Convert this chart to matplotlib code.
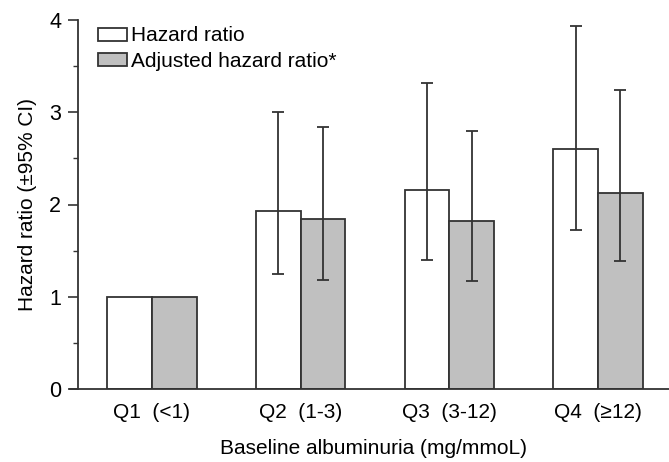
import numpy as np
import matplotlib
matplotlib.use("Agg")
import matplotlib.pyplot as plt
from matplotlib.ticker import MultipleLocator

plt.rcParams['font.family'] = ['Liberation Sans', 'DejaVu Sans']

groups = ['Q1  (<1)', 'Q2  (1-3)', 'Q3  (3-12)', 'Q4  (\u226512)']
hr = [1.0, 1.93, 2.16, 2.60]
hr_lo = [np.nan, 1.25, 1.40, 1.72]
hr_hi = [np.nan, 3.00, 3.32, 3.93]
adj = [1.0, 1.84, 1.82, 2.12]
adj_lo = [np.nan, 1.18, 1.17, 1.39]
adj_hi = [np.nan, 2.84, 2.80, 3.24]

edge = '#333333'
grey = '#c0c0c0'

fig = plt.figure(figsize=(6.69, 4.62), dpi=100)
ax = fig.add_axes([78/669, 1 - 389/462, 1 - 78/669, (389 - 20)/462])

x = np.arange(len(groups))
w = 0.3

ax.bar(x - w/2, hr, w, color='white', edgecolor=edge, linewidth=1.3,
       label='Hazard ratio', zorder=2)
ax.bar(x + w/2, adj, w, color=grey, edgecolor=edge, linewidth=1.3,
       label='Adjusted hazard ratio*', zorder=2)


def bars_err(xs, lo, hi):
    lo = np.array(lo)
    hi = np.array(hi)
    ok = ~np.isnan(lo)
    mid = (lo + hi) / 2
    ax.errorbar(xs[ok], mid[ok], yerr=(hi[ok] - lo[ok]) / 2, fmt='none',
                ecolor=edge, elinewidth=1.3, capsize=4.5, capthick=1.3, zorder=3)


bars_err(x - w/2, hr_lo, hr_hi)
bars_err(x + w/2, adj_lo, adj_hi)

ax.set_xlim(-0.497, 3.477)
ax.set_ylim(0, 4)

for s in ['top', 'right']:
    ax.spines[s].set_visible(False)
ax.spines['left'].set_color(edge)
ax.spines['bottom'].set_color(edge)
ax.spines['left'].set_linewidth(1.3)
ax.spines['bottom'].set_linewidth(1.3)
ax.spines['bottom'].set_bounds(-0.55, 3.477)

ax.set_yticks([0, 1, 2, 3, 4])
ax.yaxis.set_minor_locator(MultipleLocator(0.5))
ax.tick_params(axis='y', which='major', length=7, width=1.2, color=edge,
               labelsize=15.5, pad=5)
ax.tick_params(axis='y', which='minor', length=3.5, width=1.0, color=edge)
ax.set_xticks(x)
ax.set_xticklabels(groups)
ax.tick_params(axis='x', length=0, labelsize=15, pad=10)

ax.set_xlabel('Baseline albuminuria (mg/mmoL)', fontsize=15, labelpad=12)
ax.set_ylabel('Hazard ratio (\u00b195% CI)', fontsize=15, labelpad=9)

ax.legend(loc='upper left', bbox_to_anchor=(0.02, 1.005), frameon=False,
          fontsize=15, handlelength=1.4, handleheight=0.6,
          handletextpad=0.2, labelspacing=0.3, borderaxespad=0)

fig.savefig('out.png', dpi=100)
